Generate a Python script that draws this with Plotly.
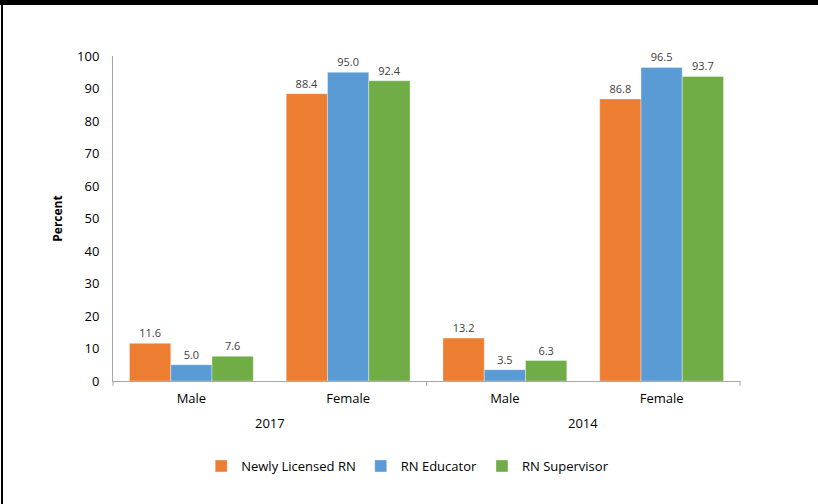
import plotly.graph_objects as go

years = ["2017", "2014"]
genders = ["Male", "Female", "Male", "Female"]
series_names = ["Newly Licensed RN", "RN Educator", "RN Supervisor"]
newly_licensed = [11.6, 88.4, 13.2, 86.8]
educator = [5.0, 95.0, 3.5, 96.5]
supervisor = [7.6, 92.4, 6.3, 93.7]
colors = ["#ED7D31", "#5B9BD5", "#70AD47"]
y_ticks = list(range(0, 101, 10))

FONT = "Open Sans, sans-serif"
positions = list(range(len(genders)))

fig = go.Figure()
for name, vals, col in zip(series_names, [newly_licensed, educator, supervisor], colors):
    fig.add_trace(go.Bar(
        x=positions, y=vals, name=name,
        marker=dict(color=col, line=dict(color="rgba(255,255,255,0.6)", width=0.6)),
        text=[f"{v:.1f}" for v in vals], textposition="outside",
        textfont=dict(size=11, color="#404040", family=FONT),
        cliponaxis=False,
    ))

L, R, T, B = 113, 78, 56, 123
W, H = 818, 504
pw, ph = W - L - R, H - T - B

def px(xp):
    return (xp - L) / pw

def py(yp):
    return (H - B - yp) / ph

shapes = [
    dict(type="rect", xref="paper", yref="paper", x0=px(0), x1=px(W), y0=py(5), y1=py(0),
         fillcolor="black", line=dict(width=0), layer="above"),
    dict(type="rect", xref="paper", yref="paper", x0=px(1), x1=px(3), y0=py(H), y1=py(0),
         fillcolor="black", line=dict(width=0), layer="above"),
]
for xt in [0, 0.5, 1]:
    shapes.append(dict(type="line", xref="paper", yref="paper", x0=xt, x1=xt, y0=0, y1=py(H - B + 5),
                       line=dict(color="#A6A6A6", width=1)))

annotations = []
for i, yr in enumerate(years):
    annotations.append(dict(text=yr, xref="paper", yref="paper", x=0.25 + 0.5 * i, y=py(423),
                            xanchor="center", yanchor="middle", showarrow=False,
                            font=dict(size=13, color="#000000", family=FONT)))

fig.update_layout(
    width=W, height=H,
    margin=dict(l=L, r=R, t=T, b=B, pad=0),
    paper_bgcolor="white", plot_bgcolor="white",
    barmode="group", bargap=0.21, bargroupgap=0,
    font=dict(family=FONT, size=13, color="#000000"),
    xaxis=dict(range=[-0.5, len(genders) - 0.5], tickvals=positions, ticktext=genders,
               showline=True, linecolor="#A6A6A6", linewidth=1, ticks="", showgrid=False,
               zeroline=False, tickfont=dict(size=13, color="#000000"), ticklabelstandoff=5),
    yaxis=dict(range=[0, 100], tickvals=y_ticks, showgrid=False, zeroline=False,
               showline=True, linecolor="#A6A6A6", linewidth=1, ticks="",
               tickfont=dict(size=13, color="#000000"), ticklabelstandoff=10,
               title=dict(text="<b>Percent</b>", font=dict(size=12, color="#000000"), standoff=11)),
    legend=dict(orientation="h", x=0.47, xanchor="center", y=py(466), yanchor="middle",
                font=dict(size=13, color="#000000"), itemwidth=30, traceorder="normal"),
    showlegend=True,
    shapes=shapes,
    annotations=annotations,
)

fig.write_html("out.html")
